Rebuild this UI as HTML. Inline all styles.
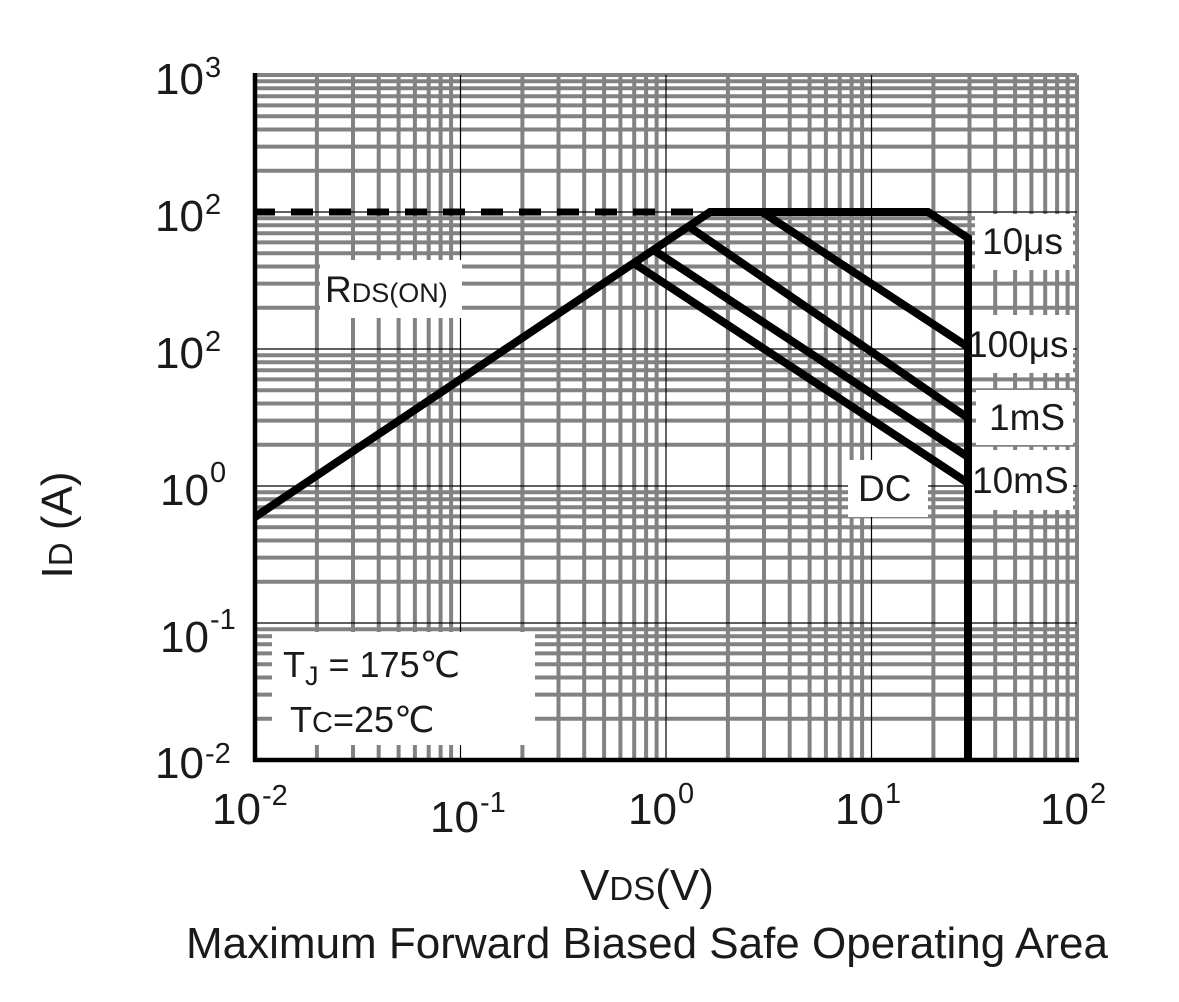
<!DOCTYPE html>
<html><head><meta charset="utf-8"><style>
html,body{margin:0;padding:0;background:#fff;}
svg{display:block;}
text{font-family:"Liberation Sans",Arial,sans-serif;fill:#1a1a1a;}
</style></head><body>
<svg width="1179" height="1002" viewBox="0 0 1179 1002" xmlns="http://www.w3.org/2000/svg">
<defs>
<pattern id="vx" patternUnits="userSpaceOnUse" x="255" y="0" width="205.5" height="1002">
<g stroke="#828282" stroke-width="4">
<line x1="61.9" y1="0" x2="61.9" y2="1002"/><line x1="98" y1="0" x2="98" y2="1002"/>
<line x1="123.7" y1="0" x2="123.7" y2="1002"/><line x1="143.6" y1="0" x2="143.6" y2="1002"/>
<line x1="159.9" y1="0" x2="159.9" y2="1002"/><line x1="173.7" y1="0" x2="173.7" y2="1002"/>
<line x1="185.6" y1="0" x2="185.6" y2="1002"/><line x1="196.1" y1="0" x2="196.1" y2="1002"/>
</g></pattern>
<pattern id="hy" patternUnits="userSpaceOnUse" x="0" y="75" width="1179" height="137">
<g stroke="#828282" stroke-width="4">
<line x1="0" y1="95.8" x2="1179" y2="95.8"/><line x1="0" y1="71.6" x2="1179" y2="71.6"/>
<line x1="0" y1="54.5" x2="1179" y2="54.5"/><line x1="0" y1="41.2" x2="1179" y2="41.2"/>
<line x1="0" y1="30.4" x2="1179" y2="30.4"/><line x1="0" y1="21.2" x2="1179" y2="21.2"/>
<line x1="0" y1="13.3" x2="1179" y2="13.3"/><line x1="0" y1="6.3" x2="1179" y2="6.3"/>
</g></pattern>
</defs>
<rect x="255" y="75" width="822" height="685" fill="url(#vx)"/>
<rect x="255" y="75" width="822" height="685" fill="url(#hy)"/>
<g stroke="#828282" stroke-width="4">
<line x1="255" y1="75" x2="1077" y2="75"/>
<line x1="1077" y1="75" x2="1077" y2="760"/>
</g>
<g stroke="#000" stroke-width="1.2">
<line x1="460.5" y1="75" x2="460.5" y2="760"/>
<line x1="666" y1="75" x2="666" y2="760"/>
<line x1="871.5" y1="75" x2="871.5" y2="760"/>
<line x1="255" y1="212" x2="1077" y2="212"/>
<line x1="255" y1="349" x2="1077" y2="349"/>
<line x1="255" y1="486" x2="1077" y2="486"/>
<line x1="255" y1="623" x2="1077" y2="623"/>
</g>
<g fill="#fff">
<rect x="320" y="260" width="142" height="58"/>
<rect x="272" y="632" width="263" height="113"/>
<rect x="975" y="214" width="98" height="56"/>
<rect x="966" y="315" width="107" height="58"/>
<rect x="976" y="390" width="97" height="55"/>
<rect x="971" y="450" width="102" height="60"/>
<rect x="848" y="460" width="80" height="57"/>
</g>
<g stroke="#000" stroke-width="4.5" fill="none">
<line x1="255" y1="73" x2="255" y2="762"/>
<line x1="253" y1="760" x2="1079" y2="760"/>
</g>
<line x1="253" y1="212" x2="710" y2="212" stroke="#000" stroke-width="7" stroke-dasharray="22,16"/>
<g stroke="#000" stroke-width="8" fill="none" stroke-linejoin="miter">
<polyline points="255,517 710,212 928,212 968,238 968,762"/>
<line x1="762" y1="212" x2="968" y2="347"/>
<line x1="688" y1="226" x2="968" y2="418"/>
<line x1="655" y1="251" x2="968" y2="457"/>
<line x1="635" y1="264" x2="968" y2="483"/>
</g>
<text x="325" y="302" font-size="37">R<tspan font-size="27">DS(ON)</tspan></text>
<text x="283" y="677" font-size="36">T<tspan font-size="27" dy="8">J</tspan><tspan dy="-8"> = 175℃</tspan></text>
<text x="290" y="732" font-size="36">T<tspan font-size="29">C</tspan>=25℃</text>
<text x="982" y="254" font-size="37">10μs</text>
<text x="967" y="357" font-size="37">100μs</text>
<text x="989" y="430" font-size="37">1mS</text>
<text x="972" y="493" font-size="37">10mS</text>
<text x="858" y="501" font-size="37">DC</text>
<!-- y ticks -->
<g font-size="44">
<text x="155" y="94">10</text><text x="205" y="77" font-size="29">3</text>
<text x="155" y="231">10</text><text x="205" y="214" font-size="29">2</text>
<text x="155" y="368">10</text><text x="205" y="351" font-size="29">2</text>
<text x="160" y="505">10</text><text x="210" y="482" font-size="29">0</text>
<text x="160" y="652">10</text><text x="210" y="629" font-size="29">-1</text>
<text x="155" y="778">10</text><text x="205" y="763" font-size="29">-2</text>
</g>
<g font-size="44">
<text x="212" y="824">10</text><text x="262" y="805" font-size="29">-2</text>
<text x="430" y="832">10</text><text x="480" y="812" font-size="29">-1</text>
<text x="628" y="824">10</text><text x="678" y="803" font-size="29">0</text>
<text x="835" y="824">10</text><text x="885" y="803" font-size="29">1</text>
<text x="1040" y="824">10</text><text x="1090" y="803" font-size="29">2</text>
</g>
<text x="580" y="900" font-size="44">V<tspan font-size="33">DS</tspan>(V)</text>
<text transform="translate(72,525) rotate(-90)" font-size="44" text-anchor="middle">I<tspan font-size="33">D</tspan> (A)</text>
<text x="647" y="958" font-size="44" text-anchor="middle">Maximum Forward Biased Safe Operating Area</text>
</svg>
</body></html>
